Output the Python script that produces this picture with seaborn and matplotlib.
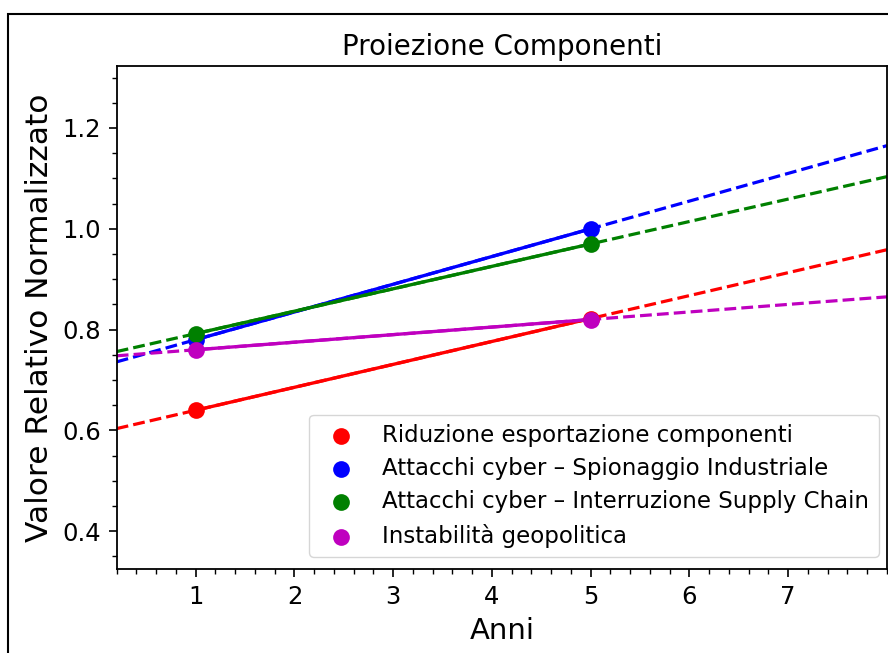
import numpy as np
import matplotlib
matplotlib.use("Agg")
import matplotlib.pyplot as plt
import seaborn as sns
from matplotlib.patches import Rectangle

# dati
anni = [1, 5]
serie = [
    "Riduzione esportazione componenti",
    "Attacchi cyber – Spionaggio Industriale",
    "Attacchi cyber – Interruzione Supply Chain",
    "Instabilità geopolitica",
]
valori_riduzione = [0.64, 0.822]
valori_spionaggio = [0.78, 1.0]
valori_supply = [0.792, 0.970]
valori_geopolitica = [0.76, 0.82]
colori = ["r", "b", "g", "m"]

plt.rcParams["font.family"] = ["DejaVu Sans"]

fig = plt.figure(figsize=(8.88, 6.53), dpi=100)
ax = fig.add_axes([116.7 / 888, 1 - 569 / 653, (887 - 116.7) / 888, (569 - 66) / 653])

xlim = (0.2, 8.0)
tutti = [valori_riduzione, valori_spionaggio, valori_supply, valori_geopolitica]
for nome, vals, c in zip(serie, tutti, colori):
    sns.scatterplot(x=anni, y=vals, color=c, s=145, linewidth=0, label=nome, ax=ax, zorder=3)
    sns.lineplot(x=anni, y=vals, color=c, linewidth=2.4, legend=False, ax=ax, zorder=2)
    # proiezione lineare tratteggiata
    m, q = np.polyfit(anni, vals, 1)
    xs = np.array(xlim)
    sns.lineplot(x=xs, y=m * xs + q, color=c, linewidth=2.3, linestyle="--",
                 legend=False, ax=ax, zorder=2)

ax.set_xlim(*xlim)
ax.set_ylim(0.325, 1.323)
ax.set_xticks([1, 2, 3, 4, 5, 6, 7])
ax.set_yticks([0.4, 0.6, 0.8, 1.0, 1.2])
ax.xaxis.set_minor_locator(matplotlib.ticker.MultipleLocator(0.2))
ax.yaxis.set_minor_locator(matplotlib.ticker.MultipleLocator(0.05))
ax.tick_params(which="major", length=5.5, width=1.2, labelsize=17.5, pad=6)
ax.tick_params(which="minor", length=3.8, width=1.0)
for sp in ax.spines.values():
    sp.set_linewidth(1.3)

ax.set_title("Proiezione Componenti", fontsize=20, pad=8)
ax.set_xlabel("Anni", fontsize=21, labelpad=6)
ax.set_ylabel("Valore Relativo Normalizzato", fontsize=22.5, labelpad=6)

ax.legend(loc="lower right", bbox_to_anchor=(0.989, 0.024), borderaxespad=0,
          fontsize=16.5, markerscale=1.0, handletextpad=0.8, labelspacing=0.45,
          handlelength=2.0)

# cornice esterna della figura (ritagliata a destra e in basso)
fig.patches.append(Rectangle((8 / 888, -0.2), 1.5, 1.2 - 14 / 653,
                             transform=fig.transFigure, fill=False,
                             edgecolor="black", linewidth=1.5, clip_on=False))

fig.savefig("out.png", dpi=100)
